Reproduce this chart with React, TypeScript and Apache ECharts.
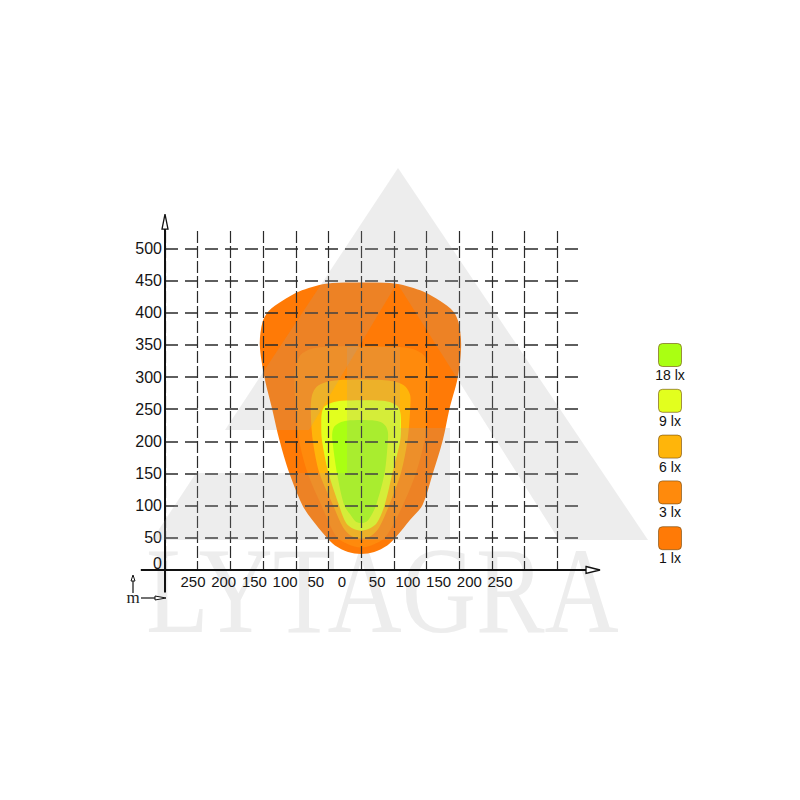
import React, { useEffect, useRef } from "react";
import * as echarts from "echarts";

// ---------- data ----------
const levelNames = ["18 lx", "9 lx", "6 lx", "3 lx", "1 lx"];
const levelColors = ["#aaff12", "#e2ff1e", "#ffb50a", "#ff8a0c", "#ff7a06"];

// isolux outlines: [lateral m, distance m]
const lux1: number[][] = [
  [0, 25], [-20, 28], [-40, 38], [-54, 52], [-75, 78], [-90, 101], [-110, 151], [-125, 202],
  [-136, 250], [-148, 300], [-155, 350], [-151, 385], [-142, 402], [-121, 418], [-95, 433],
  [-54, 445], [0, 447], [54, 445], [95, 433], [121, 418], [141, 402], [149, 385], [153, 350],
  [148, 300], [135, 250], [125, 202], [110, 151], [94, 101], [75, 78], [54, 52], [40, 38], [20, 28],
];
const lux3: number[][] = [
  [0, 35], [-20, 40], [-38, 52], [-61, 101], [-82, 151], [-95, 202], [-100, 250], [-102, 300],
  [-99, 320], [-93, 334], [-78, 343], [-54, 347], [0, 348], [54, 347], [80, 343], [96, 334],
  [103, 320], [105, 300], [102, 250], [97, 202], [84, 151], [64, 101], [38, 52], [20, 40],
];
const lux6: number[][] = [
  [0, 49], [-15, 53], [-28, 67], [-43, 101], [-64, 151], [-74, 202], [-77, 250], [-75, 272],
  [-68, 285], [-54, 292], [-36, 295], [0, 296], [36, 295], [55, 292], [68, 285], [75, 272],
  [75, 250], [71, 202], [61, 151], [43, 101], [28, 67], [15, 53],
];
const lux9: number[][] = [
  [0, 61], [-12, 64], [-23, 73], [-34, 101], [-50, 151], [-60, 202], [-61, 228], [-60, 245],
  [-56, 254], [-45, 260], [-30, 263], [0, 264], [33, 263], [47, 260], [56, 254], [60, 245],
  [61, 228], [60, 202], [48, 151], [36, 101], [24, 73], [12, 64],
];
const lux18: number[][] = [
  [0, 73], [-8, 75], [-15, 84], [-26, 101], [-37, 151], [-44, 202], [-44, 214], [-41, 223],
  [-33, 229], [-22, 232], [0, 233], [22, 232], [32, 229], [38, 223], [41, 214], [41, 202],
  [36, 151], [23, 101], [15, 84], [8, 75],
];
const contours = [lux1, lux3, lux6, lux9, lux18];
const contourColors = ["#ff7a06", "#ff8a0c", "#ffb50a", "#e2ff1e", "#aaff12"];

// axis ranges
const X_GRID = [-300, 340];
const Y_GRID = [0, 527];
const X_LINE = [-337, 344];
const Y_LINE = [-35, 530];
const Y_AXIS_AT = -300;
const LABEL_AXIS = [-300, 350];
const MAX_LABEL = 250;
const Y_MAX_LABEL = 500;

export default function App() {
  const ref = useRef<HTMLDivElement>(null);
  useEffect(() => {
    if (!ref.current) return;
    const chart = echarts.init(ref.current, null, { renderer: "svg" });
    const font = "Liberation Sans, Arial, sans-serif";
    const serif = "Liberation Serif, Times New Roman, serif";
    const gray = "rgba(165,165,165,0.2)";

    const contourSeries = contours.map((pts, i) => ({
      type: "custom",
      coordinateSystem: "cartesian2d",
      xAxisIndex: 0,
      yAxisIndex: 0,
      silent: true,
      clip: false,
      z: 2,
      data: pts,
      encode: { x: 0, y: 1 },
      renderItem: (params: any, api: any) => {
        if (params.dataIndex !== 0) return null;
        const p = pts.map((d) => api.coord(d));
        return {
          type: "polygon",
          shape: { points: p, smooth: 0.3 },
          style: { fill: contourColors[i] },
        };
      },
    }));

    const axesSeries = {
      type: "custom",
      coordinateSystem: "cartesian2d",
      xAxisIndex: 0,
      yAxisIndex: 0,
      silent: true,
      clip: false,
      z: 6,
      data: [[0, 0]],
      renderItem: (params: any, api: any) => {
        if (params.dataIndex !== 0) return null;
        const xa = api.coord([X_LINE[0], 0]);
        const xb = api.coord([X_LINE[1], 0]);
        const ya = api.coord([Y_AXIS_AT, Y_LINE[0]]);
        const yb = api.coord([Y_AXIS_AT, Y_LINE[1]]);
        const ls = { stroke: "#111", lineWidth: 2 };
        return {
          type: "group",
          children: [
            { type: "line", shape: { x1: xa[0], y1: xa[1], x2: xb[0], y2: xb[1] }, style: ls },
            { type: "line", shape: { x1: ya[0], y1: ya[1], x2: yb[0], y2: yb[1] }, style: ls },
            {
              type: "polygon",
              shape: { points: [[xb[0], xb[1] - 3.5], [xb[0] + 14, xb[1]], [xb[0], xb[1] + 3.5]] },
              style: { fill: "#fff", stroke: "#111", lineWidth: 1.3 },
            },
            {
              type: "polygon",
              shape: { points: [[yb[0] - 3, yb[1]], [yb[0], yb[1] - 15], [yb[0] + 3, yb[1]]] },
              style: { fill: "#fff", stroke: "#111", lineWidth: 1.3 },
            },
          ],
        };
      },
    };

    const legendGraphics: any[] = [];
    levelNames.forEach((name, i) => {
      const top = 343.5 + i * 45.8;
      legendGraphics.push({
        type: "rect",
        shape: { x: 658.5, y: top, width: 23, height: 23, r: 4 },
        style: { fill: levelColors[i], stroke: "rgba(110,70,10,0.6)", lineWidth: 1 },
        z: 20,
      });
      legendGraphics.push({
        type: "text",
        x: 670,
        y: top + 31.5,
        style: {
          text: name,
          fontSize: 14,
          fontFamily: font,
          fill: "#111",
          align: "center",
          verticalAlign: "middle",
        },
        z: 20,
      });
    });

    const option: any = {
      animation: false,
      grid: [
        { left: 165, top: 231, width: 418.4, height: 339, containLabel: false },
        { left: 162.3, top: 231, width: 399.1, height: 339, containLabel: false },
      ],
      xAxis: [
        {
          type: "value",
          gridIndex: 0,
          min: X_GRID[0],
          max: X_GRID[1],
          interval: 50,
          z: 5,
          axisLine: { show: false },
          axisTick: { show: false },
          axisLabel: { show: false },
          splitLine: {
            show: true,
            showMaxLine: false,
            lineStyle: { color: "#2a2a2a", width: 1.2, type: [12, 3] },
          },
        },
        {
          type: "value",
          gridIndex: 1,
          min: LABEL_AXIS[0],
          max: LABEL_AXIS[1],
          interval: 50,
          z: 5,
          axisLine: { show: false },
          axisTick: { show: false },
          splitLine: { show: false },
          axisLabel: {
            show: true,
            margin: 4,
            fontSize: 15,
            fontFamily: font,
            color: "#151515",
            formatter: (v: number) =>
              Math.abs(v) > MAX_LABEL ? "" : v === 0 ? "{z|0}" : String(Math.abs(v)),
            rich: { z: { padding: [0, 9, 0, 0], fontSize: 15, fontFamily: font, color: "#151515" } },
          },
        },
      ],
      yAxis: [
        {
          type: "value",
          gridIndex: 0,
          min: Y_GRID[0],
          max: Y_GRID[1],
          interval: 50,
          z: 5,
          axisLine: { show: false },
          axisTick: { show: false },
          axisLabel: {
            show: true,
            showMaxLabel: false,
            margin: 3,
            fontSize: 16,
            fontFamily: font,
            color: "#151515",
            formatter: (v: number) =>
              v > Y_MAX_LABEL || v % 50 !== 0 ? "" : v === 0 ? "{z|0}" : String(v),
            rich: { z: { padding: [0, 0, 14, 0], fontSize: 16, fontFamily: font, color: "#151515" } },
          },
          splitLine: {
            show: true,
            showMaxLine: false,
            lineStyle: { color: "#2a2a2a", width: 1.5, type: [13, 7] },
          },
        },
        { type: "value", gridIndex: 1, min: 0, max: 1, show: false },
      ],
      series: [...contourSeries, axesSeries],
      graphic: [
        // watermark text
        {
          type: "text",
          x: 146,
          y: 590,
          scaleX: 0.843,
          z: 1,
          silent: true,
          style: {
            text: "LYTAGRA",
            fontSize: 122,
            fontFamily: serif,
            fill: "#ededed",
            align: "left",
            verticalAlign: "middle",
          },
        },
        // watermark logo
        {
          type: "polygon",
          z: 100,
          silent: true,
          shape: {
            points: [[398, 168], [648, 540], [559, 540], [397, 283], [309, 430], [225, 430]],
          },
          style: { fill: gray },
        },
        {
          type: "polygon",
          z: 100,
          silent: true,
          shape: {
            points: [[347, 347], [400, 347], [400, 428], [450, 428], [450, 540], [152, 540], [196, 473], [347, 473]],
          },
          style: { fill: gray },
        },
        // unit marker "m"
        { type: "line", z: 20, shape: { x1: 133, y1: 593, x2: 133, y2: 581 }, style: { stroke: "#111", lineWidth: 1.2 } },
        {
          type: "polygon",
          z: 20,
          shape: { points: [[131, 581], [133, 575], [135, 581]] },
          style: { fill: "#fff", stroke: "#111", lineWidth: 1 },
        },
        { type: "line", z: 20, shape: { x1: 141, y1: 598, x2: 155, y2: 598 }, style: { stroke: "#111", lineWidth: 1.2 } },
        {
          type: "polygon",
          z: 20,
          shape: { points: [[155, 596], [166, 598], [155, 600]] },
          style: { fill: "#fff", stroke: "#111", lineWidth: 1 },
        },
        {
          type: "text",
          x: 133,
          y: 597,
          z: 20,
          style: {
            text: "m",
            fontSize: 17,
            fontFamily: serif,
            fill: "#222",
            align: "center",
            verticalAlign: "middle",
          },
        },
        ...legendGraphics,
      ],
    };
    chart.setOption(option);
    return () => chart.dispose();
  }, []);
  return (
    <div
      ref={ref}
      style={{ position: "absolute", left: 0, top: 0, width: 800, height: 800, background: "#fff" }}
    />
  );
}
